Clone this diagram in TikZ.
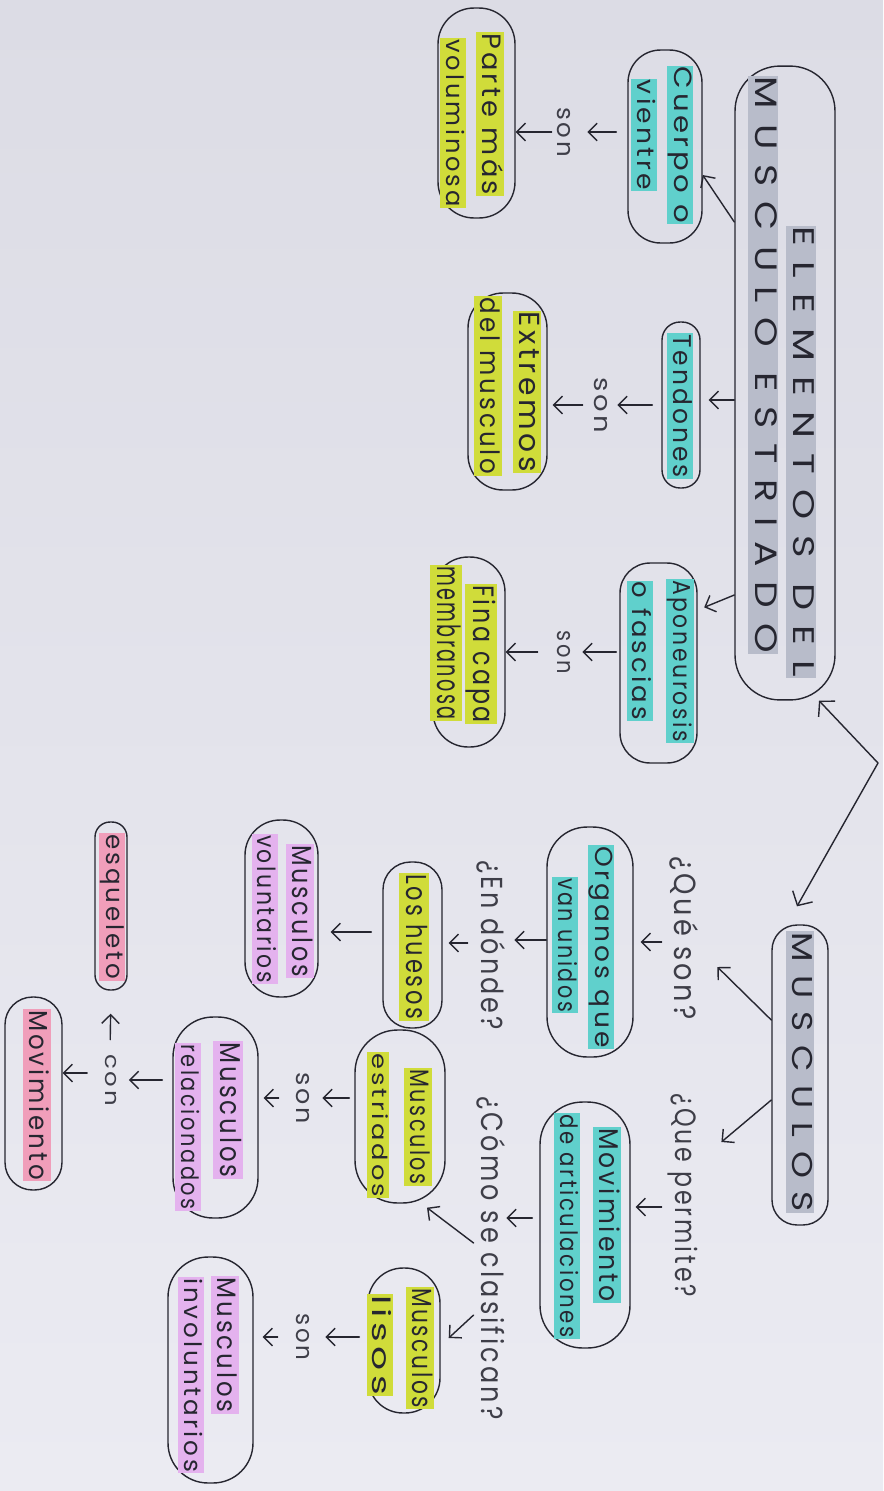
\documentclass[tikz,border=0pt]{standalone}
\usepackage{fontspec}
\setmainfont{Poppins}[LetterSpace=12]
\newfontfamily\titlefont{Poppins}[LetterSpace=40]
\usepackage{graphicx}
\usetikzlibrary{arrows.meta,calc}
\definecolor{paperA}{RGB}{220,220,229}
\definecolor{paperB}{RGB}{235,235,242}
\definecolor{ink}{RGB}{38,38,48}
\definecolor{pencil}{RGB}{62,62,72}
\definecolor{hlgray}{RGB}{184,188,202}
\definecolor{hlcyan}{RGB}{96,208,204}
\definecolor{hlyellow}{RGB}{208,220,58}
\definecolor{hllav}{RGB}{228,178,238}
\definecolor{hlpink}{RGB}{240,158,186}
\newdimen\pxu \pxu=0.02cm
% vertical text: length, thickness (px), text
\newcommand\vtxt[3]{\rotatebox{-90}{\resizebox*{#1\pxu}{#2\pxu}{\rule[-0.2em]{0pt}{0.85em}#3}}}
\begin{document}
\begin{tikzpicture}[x=0.02cm,y=-0.02cm,
  box/.style={draw=ink, line width=0.8pt, rectangle, inner sep=0pt},
  hl/.style={inner sep=0.6pt, text=ink},
  lbl/.style={inner sep=0.6pt, text=pencil},
  arr/.style={draw=ink, line width=0.8pt, line cap=round, -{Straight Barb[length=5pt,width=10pt]}},
  dblarr/.style={draw=ink, line width=0.8pt, line cap=round, line join=round, {Straight Barb[length=6pt,width=13pt]}-{Straight Barb[length=6pt,width=13pt]}}
]
\shade[top color=paperA, bottom color=paperB] (0,0) rectangle (883,1491);
\useasboundingbox (0,0) rectangle (883,1491);

% ---------- boxes ----------
\node[box, minimum width=2.0cm, minimum height=12.68cm, rounded corners=0.9cm] (title) at (785,383) {};
\node[hl, fill=hlgray] (titleA) at (801,452) {\vtxt{450}{27}{\titlefont ELEMENTOS DEL}};
\node[hl, fill=hlgray] (titleB) at (763,365) {\vtxt{576}{28}{\titlefont MUSCULO ESTRIADO}};

\node[box, minimum width=1.48cm, minimum height=3.86cm, rounded corners=0.65cm] (cuerpo) at (665,146.5) {};
\node[hl, fill=hlcyan] (cuerpoA) at (680,145) {\vtxt{156}{24}{Cuerpo o}};
\node[hl, fill=hlcyan] (cuerpoB) at (644,135) {\vtxt{110}{23}{vientre}};

\node[box, minimum width=1.54cm, minimum height=4.2cm, rounded corners=0.72cm] (parte) at (476.5,113) {};
\node[hl, fill=hlyellow] (parteA) at (490,114) {\vtxt{162}{26}{Parte más}};
\node[hl, fill=hlyellow] (parteB) at (453,123) {\vtxt{167}{23}{voluminosa}};

\node[box, minimum width=0.76cm, minimum height=3.32cm, rounded corners=0.36cm] (tend) at (681,405) {};
\node[hl, fill=hlcyan] (tendA) at (680,406) {\vtxt{143}{24}{Tendones}};

\node[box, minimum width=1.58cm, minimum height=3.94cm, rounded corners=0.7cm] (ext) at (507.5,391.5) {};
\node[hl, fill=hlyellow] (extA) at (527,392) {\vtxt{160}{26}{Extremos}};
\node[hl, fill=hlyellow] (extB) at (488,386) {\vtxt{177}{25}{del musculo}};

\node[box, minimum width=1.54cm, minimum height=4.0cm, rounded corners=0.6cm] (apon) at (658.5,663) {};
\node[hl, fill=hlcyan] (aponA) at (680,661) {\vtxt{162}{25}{Aponeurosis}};
\node[hl, fill=hlcyan] (aponB) at (640,651) {\vtxt{138}{24}{o fascias}};

\node[box, minimum width=1.44cm, minimum height=3.8cm, rounded corners=0.7cm] (fina) at (469,652) {};
\node[hl, fill=hlyellow] (finaA) at (481,654) {\vtxt{138}{30}{Fina capa}};
\node[hl, fill=hlyellow] (finaB) at (446,643) {\vtxt{153}{30}{membranosa}};

\node[box, minimum width=1.12cm, minimum height=6.0cm, rounded corners=0.5cm] (musc) at (800,1075) {};
\node[hl, fill=hlgray] (muscA) at (800,1072) {\vtxt{280}{26}{\titlefont MUSCULOS}};

\node[box, minimum width=1.72cm, minimum height=4.6cm, rounded corners=0.8cm] (org) at (590,942) {};
\node[hl, fill=hlcyan] (orgA) at (601,947) {\vtxt{201}{24}{Organos que}};
\node[hl, fill=hlcyan] (orgB) at (565,945) {\vtxt{134}{24}{van unidos}};

\node[box, minimum width=1.8cm, minimum height=4.92cm, rounded corners=0.85cm] (mov) at (585,1225) {};
\node[hl, fill=hlcyan] (movA) at (607,1215) {\vtxt{174}{26}{Movimiento}};
\node[hl, fill=hlcyan] (movB) at (567,1226) {\vtxt{223}{23}{de articulaciones}};

\node[box, minimum width=1.18cm, minimum height=3.32cm, rounded corners=0.55cm] (hues) at (412.5,945) {};
\node[hl, fill=hlyellow] (huesA) at (414,947) {\vtxt{145}{27}{Los huesos}};

\node[box, minimum width=1.8cm, minimum height=3.46cm, rounded corners=0.85cm] (estr) at (400,1116.5) {};
\node[hl, fill=hlyellow] (estrA) at (418,1127) {\vtxt{115}{25}{Musculos}};
\node[hl, fill=hlyellow] (estrB) at (378,1125) {\vtxt{144}{20}{estriados}};

\node[box, minimum width=1.44cm, minimum height=2.9cm, rounded corners=0.7cm] (lisos) at (404,1340.5) {};
\node[hl, fill=hlyellow] (lisosA) at (420,1348) {\vtxt{120}{26}{Musculos}};
\node[hl, fill=hlyellow] (lisosB) at (380,1345) {\vtxt{100}{24}{lisos}};

\node[box, minimum width=1.46cm, minimum height=3.54cm, rounded corners=0.7cm] (vol) at (281.5,908.5) {};
\node[hl, fill=hllav] (volA) at (300,911) {\vtxt{132}{26}{Musculos}};
\node[hl, fill=hllav] (volB) at (265,909) {\vtxt{148}{24}{voluntarios}};

\node[box, minimum width=1.7cm, minimum height=4.02cm, rounded corners=0.8cm] (rel) at (215.5,1117.5) {};
\node[hl, fill=hllav] (relA) at (228,1110) {\vtxt{135}{27}{Musculos}};
\node[hl, fill=hllav] (relB) at (188,1127) {\vtxt{165}{23}{relacionados}};

\node[box, minimum width=1.7cm, minimum height=4.52cm, rounded corners=0.8cm] (inv) at (210.5,1370) {};
\node[hl, fill=hllav] (invA) at (225,1345) {\vtxt{135}{25}{Musculos}};
\node[hl, fill=hllav] (invB) at (191,1375) {\vtxt{194}{23}{involuntarios}};

\node[box, minimum width=0.64cm, minimum height=3.36cm, rounded corners=0.3cm] (esq) at (111,906) {};
\node[hl, fill=hlpink] (esqA) at (112,907) {\vtxt{145}{24}{esqueleto}};

\node[box, minimum width=1.14cm, minimum height=3.86cm, rounded corners=0.55cm] (movi) at (33.5,1093.5) {};
\node[hl, fill=hlpink] (moviA) at (37,1095) {\vtxt{170}{25}{Movimiento}};

% ---------- labels ----------
\node[lbl] (son1) at (563,132) {\vtxt{50}{20}{son}};
\node[lbl] (son2) at (600,405) {\vtxt{56}{20}{son}};
\node[lbl] (son3) at (563,652) {\vtxt{43}{20}{son}};
\node[lbl] (son4) at (302,1098) {\vtxt{52}{20}{son}};
\node[lbl] (son5) at (302,1337) {\vtxt{47}{20}{son}};
\node[lbl] (que) at (683,938) {\vtxt{163}{30}{¿Qué son?}};
\node[lbl] (perm) at (683,1195) {\vtxt{204}{30}{¿Que permite?}};
\node[lbl] (donde) at (490,945) {\vtxt{170}{30}{¿En dónde?}};
\node[lbl] (como) at (490,1258) {\vtxt{323}{30}{¿Cómo se clasifican?}};
\node[lbl] (con) at (110,1080) {\vtxt{52}{17}{con}};

% ---------- connectors ----------
\draw[arr] (title.west |- 0,222) -- (cuerpo.east |- 0,175);
\draw[arr, shorten >=0.16cm] (title.west |- 0,400) -- (tend.east |- 0,400);
\draw[arr, shorten >=0.14cm] (title.west |- 0,595) -- (apon.east |- 0,610);

\draw[arr, shorten <=0.22cm, shorten >=0.26cm] (cuerpo.west |- son1) -- (son1);
\draw[arr] (son1) -- (parte.east |- son1);
\draw[arr, shorten <=0.18cm, shorten >=0.12cm] (tend.west |- son2) -- (son2);
\draw[arr, shorten <=0.12cm, shorten >=0.1cm] (son2) -- (ext.east |- son2);
\draw[arr, shorten <=0.06cm, shorten >=0.16cm] (apon.west |- son3) -- (son3);
\draw[arr, shorten <=0.28cm] (son3) -- (fina.east |- son3);

\coordinate (V) at (878,763);
\draw[dblarr] (title.south -| 819,0) -- (V) -- ($(musc.north -| 797,0)+(0,-18)$);

\draw[arr] (musc.west |- 0,1020) -- ($(que.east |- 0,967)+(18,0)$);
\draw[arr] (musc.west |- 0,1100) -- ($(perm.east |- 0,1142)+(22,0)$);
\draw[arr, shorten <=0.1cm, shorten >=0.14cm] (que.west |- 0,942) -- (org.east |- 0,942);
\draw[arr, shorten <=0.1cm, shorten >=0.1cm] (perm.west |- 0,1207) -- (mov.east |- 0,1207);
\draw[arr, shorten >=0.16cm] (org.west |- 0,940) -- (donde.east |- 0,940);
\draw[arr, shorten <=0.12cm, shorten >=0.12cm] (donde.west |- 0,943) -- (hues.east |- 0,943);
\draw[arr, shorten <=0.22cm, shorten >=0.24cm] (hues.west |- 0,932) -- (vol.east |- 0,932);
\draw[arr, shorten <=0.14cm] (mov.west |- 0,1218) -- (como.east |- 0,1218);
\draw[arr] (como.west |- 0,1243) -- ($(estr.south -| 427,0)+(0,4)$);
\draw[arr] (como.west |- 0,1315) -- ($(lisos.east |- 0,1338)+(8,0)$);
\draw[arr, shorten <=0.1cm, shorten >=0.18cm] (estr.west |- son4) -- (son4);
\draw[arr, shorten <=0.24cm, shorten >=0.1cm] (son4) -- (rel.east |- son4);
\draw[arr, shorten <=0.16cm, shorten >=0.24cm] (lisos.west |- son5) -- (son5);
\draw[arr, shorten <=0.26cm, shorten >=0.18cm] (son5) -- (inv.east |- son5);
\draw[arr, shorten <=0.2cm, shorten >=0.18cm] (rel.west |- con) -- (con);
\draw[arr, shorten <=0.26cm, shorten >=0.46cm] (con.north) -- (esq.south);
\draw[arr, shorten <=0.26cm] (con.west |- 0,1073) -- (movi.east |- 0,1073);
\end{tikzpicture}
\end{document}
